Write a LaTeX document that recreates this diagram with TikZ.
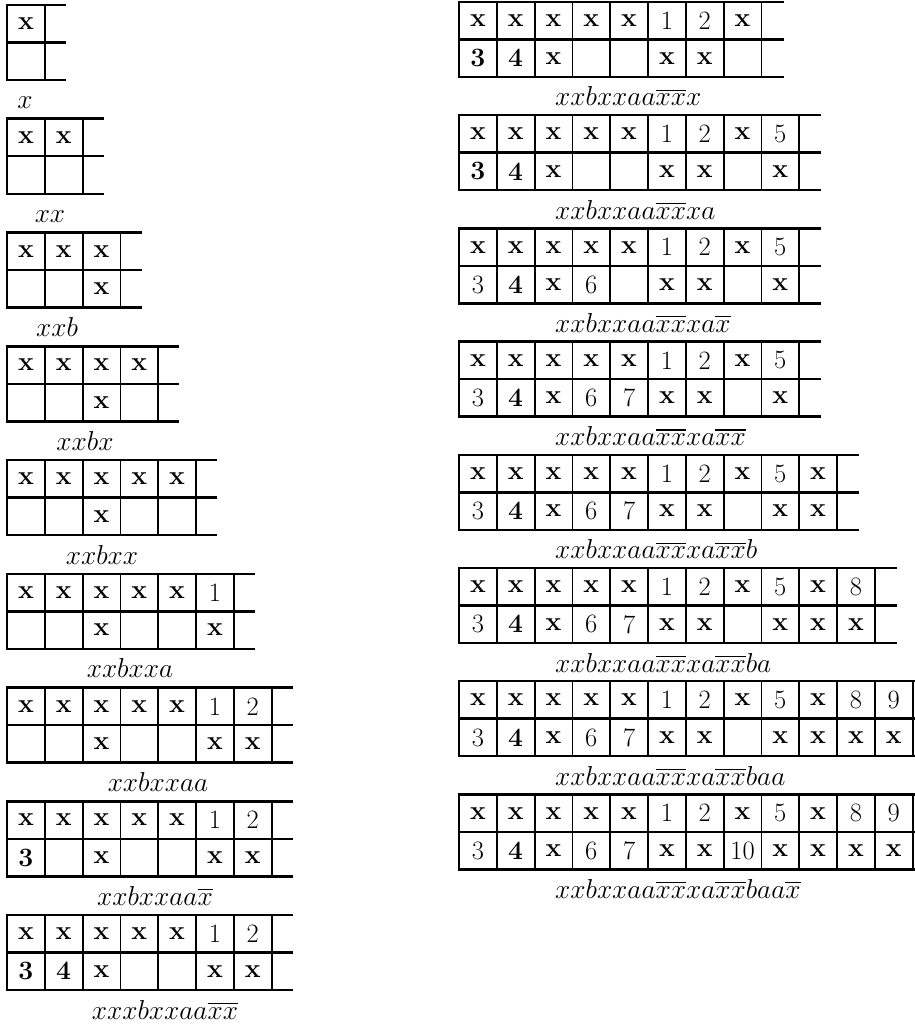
\documentclass[tikz,border=0pt]{standalone}
\usepackage{amsmath}
\usepackage{graphicx}
\newcommand{\cw}{37.8}
\newcommand{\rh}{37.5}
\newcommand{\bx}{\textbf{x}}
\newcommand{\bt}{\textbf{3}}
\newcommand{\bfour}{\textbf{4}}
\newcommand{\lbl}[1]{\scalebox{1.1}{$#1$}}
\tikzset{
  hline/.style={line width=2.5pt, line cap=rect},
  vline/.style={line width=1.8pt},
  cell/.style={inner sep=0pt, font=\fontsize{26.5}{29}\selectfont},
  lab/.style={inner sep=0pt, font=\fontsize{24.88}{30}\selectfont},
}
\newcommand{\tabdiag}[7]{%
  \pgfmathsetmacro{\xr}{#2+#4*\cw+#5}
  \foreach \k in {0,1,2}{\draw[hline] (#2,{-#3-\k*\rh}) -- (\xr,{-#3-\k*\rh});}
  \foreach \i in {0,...,#4}{\draw[vline] ({#2+\i*\cw},-#3) -- ({#2+\i*\cw},{-#3-2*\rh});}
  \foreach \t [count=\i] in {#6}{\node[cell] (#1t\i) at ({#2+(\i-0.5)*\cw},{-#3-0.5*\rh}) {\t};}
  \foreach \t [count=\i] in {#7}{\node[cell] (#1b\i) at ({#2+(\i-0.5)*\cw},{-#3-1.5*\rh}) {\t};}
}
\begin{document}
\begin{tikzpicture}[x=1pt,y=1pt]
\useasboundingbox (0,0) rectangle (914,-1027);
% ---------------- left column ----------------
\tabdiag{La}{7}{5}{1}{20}{\bx}{{}}
\node[lab,anchor=base] (La-l) at (25,-109) {\lbl{x}};
\tabdiag{Lb}{7}{118.75}{2}{20}{\bx,\bx}{{},{}}
\node[lab,anchor=base] (Lb-l) at (50,-222.75) {\lbl{xx}};
\tabdiag{Lc}{7}{232.5}{3}{20}{\bx,\bx,\bx}{{},{},\bx}
\node[lab,anchor=base] (Lc-l) at (57,-336.5) {\lbl{xxb}};
\tabdiag{Ld}{7}{346.25}{4}{20}{\bx,\bx,\bx,\bx}{{},{},\bx}
\node[lab,anchor=base] (Ld-l) at (85,-450.25) {\lbl{xxbx}};
\tabdiag{Le}{7}{460}{5}{20}{\bx,\bx,\bx,\bx,\bx}{{},{},\bx}
\node[lab,anchor=base] (Le-l) at (102,-564) {\lbl{xxbxx}};
\tabdiag{Lf}{7}{573.75}{6}{20}{\bx,\bx,\bx,\bx,\bx,1}{{},{},\bx,{},{},\bx}
\node[lab,anchor=base] (Lf-l) at (130,-677.75) {\lbl{xxbxxa}};
\tabdiag{Lg}{7}{687.5}{7}{20}{\bx,\bx,\bx,\bx,\bx,1,2}{{},{},\bx,{},{},\bx,\bx}
\node[lab,anchor=base] (Lg-l) at (158,-791.5) {\lbl{xxbxxaa}};
\tabdiag{Lh}{7}{801.25}{7}{20}{\bx,\bx,\bx,\bx,\bx,1,2}{\bt,{},\bx,{},{},\bx,\bx}
\node[lab,anchor=base] (Lh-l) at (155,-905.25) {\lbl{xxbxxaa\overline{x}}};
\tabdiag{Li}{7}{915}{7}{20}{\bx,\bx,\bx,\bx,\bx,1,2}{\bt,\bfour,\bx,{},{},\bx,\bx}
\node[lab,anchor=base] (Li-l) at (165,-1019) {\lbl{xxxbxxaa\overline{xx}}};
% ---------------- right column ----------------
\tabdiag{Ra}{459}{2}{8}{21}{\bx,\bx,\bx,\bx,\bx,1,2,\bx}{\bt,\bfour,\bx,{},{},\bx,\bx}
\node[lab,anchor=base west] (Ra-l) at (555,-106) {\lbl{xxbxxaa\overline{xx}x}};
\tabdiag{Rb}{459}{115.2}{9}{21}{\bx,\bx,\bx,\bx,\bx,1,2,\bx,5}{\bt,\bfour,\bx,{},{},\bx,\bx,{},\bx}
\node[lab,anchor=base west] (Rb-l) at (555,-219.2) {\lbl{xxbxxaa\overline{xx}xa}};
\tabdiag{Rc}{459}{228.4}{9}{21}{\bx,\bx,\bx,\bx,\bx,1,2,\bx,5}{3,\bfour,\bx,6,{},\bx,\bx,{},\bx}
\node[lab,anchor=base west] (Rc-l) at (555,-332.4) {\lbl{xxbxxaa\overline{xx}xa\overline{x}}};
\tabdiag{Rd}{459}{341.6}{9}{21}{\bx,\bx,\bx,\bx,\bx,1,2,\bx,5}{3,\bfour,\bx,6,7,\bx,\bx,{},\bx}
\node[lab,anchor=base west] (Rd-l) at (555,-445.6) {\lbl{xxbxxaa\overline{xx}xa\overline{xx}}};
\tabdiag{Re}{459}{454.8}{10}{21}{\bx,\bx,\bx,\bx,\bx,1,2,\bx,5,\bx}{3,\bfour,\bx,6,7,\bx,\bx,{},\bx,\bx}
\node[lab,anchor=base west] (Re-l) at (555,-558.8) {\lbl{xxbxxaa\overline{xx}xa\overline{xx}b}};
\tabdiag{Rf}{459}{568}{11}{21}{\bx,\bx,\bx,\bx,\bx,1,2,\bx,5,\bx,8}{3,\bfour,\bx,6,7,\bx,\bx,{},\bx,\bx,\bx}
\node[lab,anchor=base west] (Rf-l) at (555,-672) {\lbl{xxbxxaa\overline{xx}xa\overline{xx}ba}};
\tabdiag{Rg}{459}{681.2}{12}{1}{\bx,\bx,\bx,\bx,\bx,1,2,\bx,5,\bx,8,9}{3,\bfour,\bx,6,7,\bx,\bx,{},\bx,\bx,\bx,\bx}
\node[lab,anchor=base west] (Rg-l) at (555,-785.2) {\lbl{xxbxxaa\overline{xx}xa\overline{xx}baa}};
\tabdiag{Rh}{459}{794.4}{12}{1}{\bx,\bx,\bx,\bx,\bx,1,2,\bx,5,\bx,8,9}{3,\bfour,\bx,6,7,\bx,\bx,10,\bx,\bx,\bx,\bx}
\node[lab,anchor=base west] (Rh-l) at (555,-898.4) {\lbl{xxbxxaa\overline{xx}xa\overline{xx}baa\overline{x}}};
\end{tikzpicture}
\end{document}
